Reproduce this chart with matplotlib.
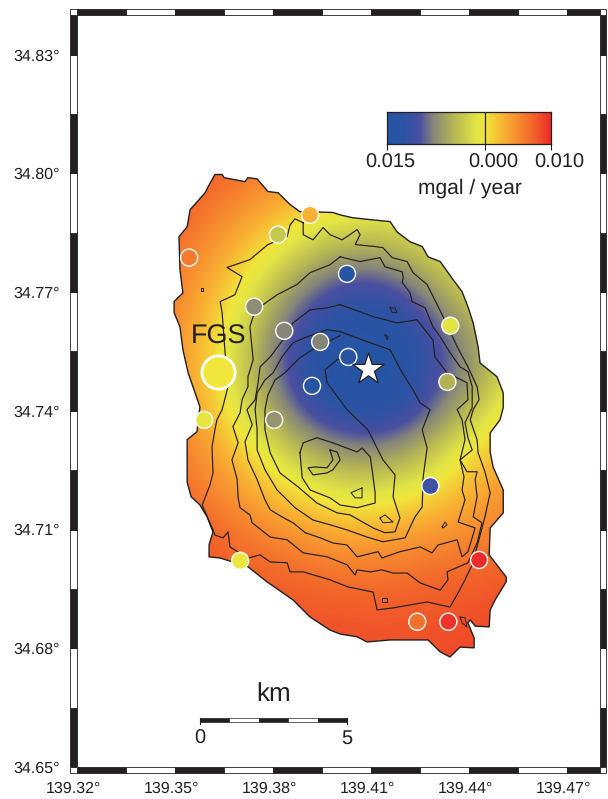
import numpy as np
from matplotlib import pylab as plt
from matplotlib.colors import LinearSegmentedColormap
from matplotlib.patches import Polygon, Rectangle
from matplotlib.transforms import ScaledTranslation

plt.rcParams["font.family"] = ["Liberation Sans", "DejaVu Sans"]
plt.rcParams["text.hinting"] = "no_hinting"
plt.rcParams["text.hinting_factor"] = 1

INK = "#231f20"

# gravity change, in 0.001 mgal / year at 0.01 degree spacing
grid_lons = [139.34, 139.35, 139.36, 139.37, 139.38, 139.39, 139.40, 139.41, 139.42, 139.43, 139.44, 139.45, 139.46]
grid_lats = [34.81, 34.80, 34.79, 34.78, 34.77, 34.76, 34.75, 34.74, 34.73, 34.72, 34.71, 34.70, 34.69, 34.68, 34.67]
grid_values = [
    [9.0, 8.8, 8.0, 7.2, 6.2, 5.5, 5.0, 4.5, 4.0, 4.5, 6.0, 7.0, 8.0],
    [9.0, 8.4, 7.5, 6.6, 5.4, 4.5, 3.9, 3.0, 2.5, 3.0, 4.0, 5.5, 7.0],
    [8.4, 7.5, 6.1, 4.5, 2.8, 0.9, -0.2, -0.8, -1.0, -0.5, 1.5, 3.5, 5.5],
    [7.7, 6.5, 4.5, 2.1, -0.5, -3.6, -5.7, -6.1, -4.8, -2.5, -0.8, 1.0, 3.0],
    [7.3, 5.5, 3.0, -0.1, -4.5, -8.4, -11.0, -11.7, -10.0, -6.6, -3.0, -1.5, 1.0],
    [7.0, 4.8, 1.8, -2.3, -7.2, -12.0, -14.0, -14.2, -13.6, -10.0, -6.5, -3.0, 0.0],
    [7.0, 4.6, 1.5, -3.0, -8.2, -13.2, -14.3, -15.0, -14.2, -11.0, -7.5, -3.5, 1.0],
    [7.2, 5.0, 2.4, -1.4, -5.9, -10.4, -13.0, -13.6, -12.2, -8.6, -4.5, -0.3, 3.0],
    [7.6, 6.2, 4.1, 1.5, -1.6, -5.0, -7.0, -7.7, -6.4, -3.4, 0.2, 2.5, 5.0],
    [8.2, 7.2, 5.5, 3.9, 1.8, -0.1, -1.6, -2.0, -1.0, 0.7, 2.8, 4.0, 6.0],
    [8.6, 8.0, 7.3, 6.1, 5.0, 3.9, 3.0, 2.9, 3.5, 4.2, 4.8, 5.6, 7.0],
    [8.6, 8.4, 8.0, 7.5, 7.1, 6.7, 6.2, 6.1, 6.4, 6.8, 7.0, 7.5, 8.0],
    [8.8, 8.6, 8.4, 8.2, 8.1, 8.0, 7.9, 7.8, 7.8, 8.0, 8.2, 8.4, 8.6],
    [9.0, 8.8, 8.6, 8.5, 8.4, 8.4, 8.3, 8.3, 8.3, 8.4, 8.5, 8.6, 8.8],
    [9.2, 9.0, 8.8, 8.7, 8.6, 8.6, 8.5, 8.5, 8.5, 8.6, 8.7, 8.8, 9.0],
]

# survey stations
station_lons = [139.3543, 139.3815, 139.3913, 139.4026, 139.3742, 139.3834, 139.3944, 139.4030, 139.3919, 139.4342,
                139.4333, 139.3803, 139.3589, 139.4281, 139.3699, 139.4430, 139.4241, 139.4336]
station_lats = [34.7787, 34.7845, 34.7895, 34.7746, 34.7663, 34.7602, 34.7574, 34.7536, 34.7463, 34.7615,
                34.7473, 34.7377, 34.7377, 34.7210, 34.7021, 34.7023, 34.6867, 34.6867]
station_values = [6.0, -3.5, 2.8, -14.0, -7.5, -8.0, -8.0, -13.5, -14.0, -1.5,
                  -5.0, -7.0, -0.8, -11.0, -0.5, 10.0, 6.5, 9.7]
fgs_lon, fgs_lat, fgs_value = 139.3632, 34.7498, 0.0
star_lon, star_lat = 139.4091, 34.7506

coast_lon = [139.3622, 139.3644, 139.3650, 139.3714, 139.3723, 139.3751, 139.3784, 139.3815, 139.3852, 139.3882,
             139.3913, 139.3983, 139.4005, 139.4042, 139.4097, 139.4158, 139.4179, 139.4219, 139.4256, 139.4274,
             139.4311, 139.4351, 139.4378, 139.4396, 139.4412, 139.4427, 139.4433, 139.4485, 139.4504, 139.4504,
             139.4494, 139.4464, 139.4464, 139.4473, 139.4504, 139.4504, 139.4464, 139.4461, 139.4513, 139.4513,
             139.4479, 139.4464, 139.4461, 139.4418, 139.4403, 139.4396, 139.4415, 139.4415, 139.4372, 139.4341,
             139.4311, 139.4274, 139.4158, 139.4087, 139.4057, 139.4005, 139.3974, 139.3913, 139.3861, 139.3781,
             139.3723, 139.3677, 139.3638, 139.3604, 139.3604, 139.3616, 139.3598, 139.3576, 139.3549, 139.3537,
             139.3537, 139.3567, 139.3576, 139.3540, 139.3524, 139.3515, 139.3497, 139.3497, 139.3524, 139.3515,
             139.3512, 139.3537, 139.3546, 139.3592, 139.3601]
coast_lat = [34.7997, 34.7997, 34.7989, 34.7979, 34.7989, 34.7986, 34.7954, 34.7951, 34.7921, 34.7903,
             34.7903, 34.7901, 34.7895, 34.7888, 34.7883, 34.7878, 34.7852, 34.7827, 34.7815, 34.7789,
             34.7777, 34.7731, 34.7701, 34.7663, 34.7622, 34.7562, 34.7521, 34.7486, 34.7445, 34.7408,
             34.7377, 34.7344, 34.7296, 34.7258, 34.7200, 34.7142, 34.7104, 34.7036, 34.6980, 34.6968,
             34.6922, 34.6897, 34.6854, 34.6856, 34.6872, 34.6864, 34.6826, 34.6801, 34.6803, 34.6778,
             34.6791, 34.6821, 34.6821, 34.6816, 34.6829, 34.6836, 34.6846, 34.6879, 34.6922, 34.6968,
             34.7006, 34.7018, 34.7028, 34.7031, 34.7061, 34.7094, 34.7132, 34.7162, 34.7183, 34.7220,
             34.7327, 34.7347, 34.7410, 34.7496, 34.7554, 34.7612, 34.7648, 34.7676, 34.7698, 34.7756,
             34.7840, 34.7865, 34.7908, 34.7951, 34.7966]

ring_a_lon = [139.3892, 139.3892, 139.3922, 139.3953, 139.3974, 139.4011, 139.4035, 139.4057, 139.4066, 139.4051,
              139.4112, 139.4136, 139.4164, 139.4210, 139.4228, 139.4271, 139.4305, 139.4335, 139.4363, 139.4396,
              139.4424, 139.4430, 139.4412, 139.4403, 139.4424, 139.4427, 139.4448, 139.4464, 139.4448, 139.4427,
              139.4409, 139.4387, 139.4366, 139.4341, 139.4271, 139.4167, 139.4118, 139.4106, 139.4029, 139.3974,
              139.3892, 139.3852, 139.3843, 139.3791, 139.3760, 139.3723, 139.3668, 139.3662, 139.3647, 139.3622,
              139.3616, 139.3583, 139.3607, 139.3616, 139.3613, 139.3622, 139.3628, 139.3644, 139.3662, 139.3653,
              139.3644, 139.3638, 139.3683, 139.3705, 139.3659, 139.3729, 139.3784, 139.3843, 139.3852, 139.3867,
              139.3892]
ring_a_lat = [34.7875, 34.7845, 34.7832, 34.7863, 34.7845, 34.7832, 34.7845, 34.7858, 34.7845, 34.7820,
              34.7815, 34.7812, 34.7787, 34.7777, 34.7749, 34.7719, 34.7663, 34.7612, 34.7562, 34.7511,
              34.7461, 34.7428, 34.7403, 34.7377, 34.7327, 34.7294, 34.7246, 34.7193, 34.7132, 34.7066,
              34.7011, 34.6973, 34.6940, 34.6904, 34.6917, 34.6902, 34.6897, 34.6942, 34.6955, 34.6973,
              34.6993, 34.6993, 34.7016, 34.7018, 34.7036, 34.7028, 34.7056, 34.7094, 34.7079, 34.7086,
              34.7099, 34.7162, 34.7213, 34.7243, 34.7309, 34.7352, 34.7377, 34.7403, 34.7461, 34.7547,
              34.7648, 34.7676, 34.7693, 34.7739, 34.7762, 34.7782, 34.7820, 34.7840, 34.7870, 34.7885,
              34.7875]

ring_b_lon = [139.4005, 139.4066, 139.4127, 139.4142, 139.4195, 139.4198, 139.4195, 139.4219, 139.4225, 139.4265,
              139.4289, 139.4311, 139.4341, 139.4372, 139.4396, 139.4409, 139.4409, 139.4387, 139.4396, 139.4409,
              139.4372, 139.4393, 139.4424, 139.4418, 139.4424, 139.4412, 139.4439, 139.4424, 139.4396, 139.4332,
              139.4335, 139.4311, 139.4250, 139.4210, 139.4167, 139.4133, 139.4097, 139.4057, 139.4051, 139.4026,
              139.3965, 139.3892, 139.3843, 139.3791, 139.3736, 139.3729, 139.3699, 139.3693, 139.3690, 139.3674,
              139.3693, 139.3677, 139.3699, 139.3705, 139.3723, 139.3723, 139.3739, 139.3736, 139.3729, 139.3739,
              139.3769, 139.3812, 139.3873, 139.3913, 139.3974, 139.4005]
ring_b_lat = [34.7789, 34.7777, 34.7787, 34.7764, 34.7751, 34.7736, 34.7724, 34.7698, 34.7676, 34.7660,
              34.7612, 34.7587, 34.7547, 34.7511, 34.7499, 34.7461, 34.7408, 34.7370, 34.7332, 34.7301,
              34.7276, 34.7246, 34.7246, 34.7226, 34.7183, 34.7132, 34.7117, 34.7066, 34.7016, 34.6993,
              34.6973, 34.6947, 34.6965, 34.6990, 34.6990, 34.6998, 34.6993, 34.6998, 34.6985, 34.7011,
              34.7031, 34.7041, 34.7074, 34.7081, 34.7117, 34.7137, 34.7155, 34.7180, 34.7226, 34.7276,
              34.7319, 34.7360, 34.7395, 34.7428, 34.7461, 34.7486, 34.7529, 34.7554, 34.7612, 34.7638,
              34.7668, 34.7693, 34.7719, 34.7749, 34.7769, 34.7789]

ring_c_lon = [139.4005, 139.4066, 139.4106, 139.4179, 139.4240, 139.4289, 139.4295, 139.4332, 139.4393, 139.4396,
              139.4363, 139.4378, 139.4387, 139.4372, 139.4384, 139.4378, 139.4387, 139.4366, 139.4418, 139.4396,
              139.4378, 139.4363, 139.4305, 139.4286, 139.4250, 139.4188, 139.4133, 139.4121, 139.4057, 139.4026,
              139.3983, 139.3944, 139.3898, 139.3861, 139.3827, 139.3791, 139.3775, 139.3751, 139.3723, 139.3714,
              139.3736, 139.3720, 139.3745, 139.3754, 139.3760, 139.3791, 139.3830, 139.3861, 139.3913, 139.3965,
              139.4005]
ring_c_lat = [34.7668, 34.7650, 34.7638, 34.7622, 34.7630, 34.7579, 34.7536, 34.7496, 34.7471, 34.7428,
              34.7403, 34.7377, 34.7327, 34.7276, 34.7233, 34.7200, 34.7175, 34.7119, 34.7104, 34.7044,
              34.7031, 34.7074, 34.7061, 34.7041, 34.7056, 34.7044, 34.7028, 34.7044, 34.7031, 34.7061,
              34.7066, 34.7079, 34.7092, 34.7117, 34.7132, 34.7150, 34.7175, 34.7226, 34.7276, 34.7322,
              34.7365, 34.7403, 34.7428, 34.7471, 34.7511, 34.7536, 34.7579, 34.7622, 34.7655, 34.7660,
              34.7668]

ring_d_lon = [139.4005, 139.4097, 139.4158, 139.4195, 139.4228, 139.4250, 139.4280, 139.4256, 139.4271, 139.4259,
              139.4256, 139.4234, 139.4204, 139.4136, 139.4087, 139.4026, 139.3974, 139.3922, 139.3867, 139.3812,
              139.3775, 139.3751, 139.3751, 139.3745, 139.3751, 139.3775, 139.3800, 139.3827, 139.3861, 139.3904,
              139.3965, 139.4005]
ring_d_lat = [34.7600, 34.7572, 34.7554, 34.7496, 34.7453, 34.7420, 34.7403, 34.7352, 34.7306, 34.7233,
              34.7157, 34.7132, 34.7079, 34.7069, 34.7081, 34.7099, 34.7112, 34.7124, 34.7155, 34.7200,
              34.7251, 34.7301, 34.7352, 34.7403, 34.7445, 34.7478, 34.7496, 34.7536, 34.7572, 34.7587,
              34.7605, 34.7600]

ring_e_lon = [139.4005, 139.3919, 139.3882, 139.3836, 139.3806, 139.3784, 139.3775, 139.3775, 139.3791, 139.3821,
              139.3876, 139.3934, 139.3996, 139.4035, 139.4106, 139.4142, 139.4173, 139.4188, 139.4167, 139.4173,
              139.4136, 139.4090, 139.4026, 139.3965, 139.3959, 139.3996, 139.4035]
ring_e_lat = [34.7590, 34.7554, 34.7534, 34.7496, 34.7478, 34.7440, 34.7403, 34.7352, 34.7294, 34.7243,
              34.7208, 34.7167, 34.7142, 34.7137, 34.7104, 34.7092, 34.7094, 34.7129, 34.7183, 34.7238,
              34.7276, 34.7352, 34.7403, 34.7471, 34.7504, 34.7529, 34.7542]

summit_lon = [139.3882, 139.3892, 139.3934, 139.3983, 139.4057, 139.4072, 139.4097, 139.4103, 139.4112, 139.4112,
              139.4057, 139.4005, 139.3974, 139.3913, 139.3889, 139.3882]
summit_lat = [34.7294, 34.7319, 34.7332, 34.7319, 34.7296, 34.7306, 34.7284, 34.7251, 34.7193, 34.7167,
              34.7155, 34.7162, 34.7180, 34.7200, 34.7231, 34.7294]

crater_lon = [139.3974, 139.3996, 139.4005, 139.3983, 139.3965, 139.3922, 139.3907, 139.3928, 139.3965, 139.3983, 139.3974]
crater_lat = [34.7301, 34.7296, 34.7276, 34.7251, 34.7243, 34.7238, 34.7256, 34.7258, 34.7256, 34.7276, 34.7301]

# small closed loops of the topography
pit_lons = [[139.4072, 139.4072, 139.4051, 139.4038, 139.4072],
            [139.4127, 139.4142, 139.4167, 139.4136, 139.4127],
            [139.4133, 139.4149, 139.4149, 139.4133, 139.4133],
            [139.4317, 139.4326, 139.4332, 139.4320, 139.4317],
            [139.4372, 139.4387, 139.4393, 139.4378, 139.4372],
            [139.3580, 139.3586, 139.3586, 139.3580, 139.3580],
            [139.4158, 139.4173, 139.4179, 139.4164, 139.4158],
            [139.4142, 139.4152, 139.4149, 139.4142]]
pit_lats = [[34.7205, 34.7180, 34.7180, 34.7193, 34.7205],
            [34.7129, 34.7137, 34.7119, 34.7117, 34.7129],
            [34.6927, 34.6927, 34.6917, 34.6917, 34.6927],
            [34.7107, 34.7119, 34.7112, 34.7104, 34.7107],
            [34.6879, 34.6877, 34.6854, 34.6864, 34.6879],
            [34.7711, 34.7711, 34.7703, 34.7703, 34.7711],
            [34.7660, 34.7660, 34.7648, 34.7648, 34.7660],
            [34.7592, 34.7587, 34.7579, 34.7592]]

lon_ticks = [139.32, 139.35, 139.38, 139.41, 139.44, 139.47]
lat_ticks = [34.65, 34.68, 34.71, 34.74, 34.77, 34.80, 34.83]
cbar_ticks = [-15, 0, 10]
cbar_labels = ["0.015", "0.000", "0.010"]

colours = ["#2455a4", "#2d53a4", "#4a4fa0", "#85857a", "#b5b555", "#e3e545", "#f0e63c", "#f9b233", "#f7872f", "#f15a29", "#ee2a2a"]
stops = [-15, -12.5, -10, -8, -4.9, -1.3, 0, 2.75, 5.3, 7.85, 10]
cmap = LinearSegmentedColormap.from_list("grav", [((s + 15) / 25, c) for s, c in zip(stops, colours)], N=512)

fig = plt.figure(figsize=(6.08, 7.99), dpi=100)
ax = fig.add_axes([77 / 608, 32 / 799, 523 / 608, 752 / 799])

xmin, xmax = 139.32, 139.48
ymin, ymax = 34.65, 34.84

# gravity field clipped by the coast
dlon = 0.005
extent = (grid_lons[0] - dlon, grid_lons[-1] + dlon, grid_lats[-1] - dlon, grid_lats[0] + dlon)
field = ax.imshow(np.array(grid_values), extent=extent, origin="upper", aspect="auto", cmap=cmap,
                  vmin=-15, vmax=10, interpolation="bicubic", zorder=1)
coast = Polygon(np.column_stack([coast_lon, coast_lat]), closed=True, fc="none", ec=INK, lw=1.0, zorder=3)
ax.add_patch(coast)
field.set_clip_path(coast)

for lon, lat in [(ring_a_lon, ring_a_lat), (ring_b_lon, ring_b_lat), (ring_c_lon, ring_c_lat),
                 (ring_d_lon, ring_d_lat), (ring_e_lon, ring_e_lat), (summit_lon, summit_lat),
                 (crater_lon, crater_lat)]:
    ax.plot(lon, lat, color=INK, lw=0.85, zorder=2)
for lon, lat in zip(pit_lons, pit_lats):
    ax.plot(lon, lat, color=INK, lw=0.7, zorder=2)

ax.scatter(station_lons, station_lats, c=station_values, cmap=cmap, vmin=-15, vmax=10, s=150,
           edgecolors="white", linewidths=1.0, zorder=4)
ax.scatter([fgs_lon], [fgs_lat], c=[fgs_value], cmap=cmap, vmin=-15, vmax=10, s=570,
           edgecolors="white", linewidths=2.0, zorder=4)
ax.scatter([star_lon], [star_lat], marker="*", s=560, c="white", edgecolors=INK, linewidths=0.9, zorder=5)
ax.text(fgs_lon + 0.0000, fgs_lat + 0.0090, "FGS", fontsize=19.5, color=INK, ha="center", va="center", zorder=6)

# scale bar, 5 km split in five
km_deg = 0.04498 / 5
bar_lon = 139.3576
bar_top, bar_bottom = 34.6624, 34.6614
for i in range(5):
    ax.add_patch(Rectangle((bar_lon + i * km_deg, bar_bottom), km_deg, bar_top - bar_bottom,
                           fc=INK if i % 2 == 0 else "white", ec=INK, lw=0.5, zorder=3))
for lon in [bar_lon, bar_lon + 5 * km_deg]:
    ax.plot([lon, lon], [bar_top, bar_bottom - 0.0006], color=INK, lw=0.8, zorder=3)
ax.text(bar_lon + 2.5 * km_deg, 34.6683, "km", fontsize=19, color=INK, ha="center", va="center")
ax.text(bar_lon, 34.6572, "0", fontsize=14.5, color=INK, ha="center", va="center")
ax.text(bar_lon + 5 * km_deg, 34.6572, "5", fontsize=14.5, color=INK, ha="center", va="center")

ax.set_xlim(xmin, xmax)
ax.set_ylim(ymin, ymax)
for s in ax.spines.values():
    s.set_visible(False)
ax.set_xticks(lon_ticks)
ax.set_xticklabels([f"{v:.2f}°" for v in lon_ticks], fontsize=11.4, color=INK)
ax.set_yticks(lat_ticks)
ax.set_yticklabels([f"{v:.2f}°" for v in lat_ticks], fontsize=11.4, color=INK)
ax.tick_params(axis="both", length=0)
ax.tick_params(axis="x", pad=10)
ax.tick_params(axis="y", pad=12)
shift = ScaledTranslation(-4 / 100, 0, fig.dpi_scale_trans)
for lab in ax.get_xticklabels():
    lab.set_transform(lab.get_transform() + shift)

# checkered frame
bx = 6.5 / 523 * (xmax - xmin)
by = 6.5 / 752 * (ymax - ymin)


def band(x, y, w, h, black):
    ax.add_patch(Rectangle((x, y), w, h, fc=INK if black else "white", ec=INK, lw=0.6, clip_on=False, zorder=7))


edges = np.arange(xmin, xmax, 0.015).tolist() + [xmax]
for i in range(len(edges) - 1):
    band(edges[i], ymin - by, edges[i + 1] - edges[i], by, i % 2 == 0)
    band(edges[i], ymax, edges[i + 1] - edges[i], by, i % 2 == 0)
edges = np.arange(ymin, ymax, 0.015).tolist() + [ymax]
for i in range(len(edges) - 1):
    band(xmin - bx, edges[i], bx, edges[i + 1] - edges[i], i % 2 == 0)
    band(xmax, edges[i], bx, edges[i + 1] - edges[i], i % 2 == 0)
for x in [xmin - bx, xmax]:
    for y in [ymin - by, ymax]:
        band(x, y, bx, by, False)

# colour bar
cax = fig.add_axes([387 / 608, 655 / 799, 164 / 608, 32 / 799])
cax.imshow(np.linspace(-15, 10, 400).reshape(1, -1), extent=(-15, 10, 0, 1), aspect="auto", cmap=cmap, vmin=-15, vmax=10)
cax.axvline(0, color=INK, lw=0.9)
cax.set_yticks([])
cax.set_xticks(cbar_ticks)
cax.set_xticklabels(cbar_labels, fontsize=14.6, color=INK)
cax.tick_params(axis="x", length=4.5, width=0.8, color=INK, pad=2)
for lab, off in zip(cax.get_xticklabels(), [3, 8, 8]):
    lab.set_transform(lab.get_transform() + ScaledTranslation(off / 100, 0, fig.dpi_scale_trans))
for s in cax.spines.values():
    s.set_linewidth(0.9)
    s.set_color(INK)
cax.set_xlabel("mgal / year", fontsize=15, color=INK, va="center")
cax.xaxis.set_label_coords(0.506, -1.375)

plt.savefig("out.png", dpi=100)
